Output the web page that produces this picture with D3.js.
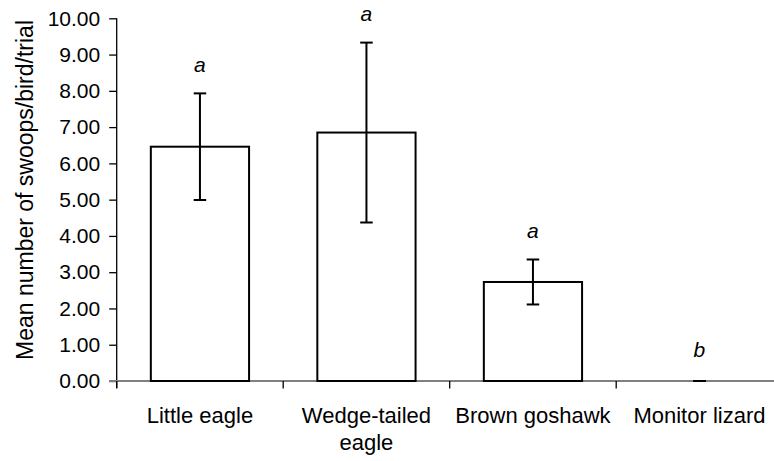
<!DOCTYPE html>
<html>
<head>
<meta charset="utf-8">
<script src="https://cdn.jsdelivr.net/npm/d3@7"></script>
<style>
  body { margin: 0; background: #fff; }
  text { font-family: "Liberation Sans", Arial, sans-serif; fill: #000; }
</style>
</head>
<body>
<div id="chart"></div>
<script>
// data
var categories = ["Little eagle", "Wedge-tailed eagle", "Brown goshawk", "Monitor lizard"];
var catLines = [["Little eagle"], ["Wedge-tailed", "eagle"], ["Brown goshawk"], ["Monitor lizard"]];
var means = [6.46, 6.85, 2.73, 0];
var errors = [1.47, 2.48, 0.62, 0];
var letters = ["a", "a", "a", "b"];
var yTicks = [0, 1, 2, 3, 4, 5, 6, 7, 8, 9, 10];

// initial setup
var svgWidth = 774;
var svgHeight = 461;

var svg = d3.select("#chart")
  .append("svg")
  .attr("width", svgWidth)
  .attr("height", svgHeight);

svg.append("rect")
  .attr("width", svgWidth)
  .attr("height", svgHeight)
  .attr("fill", "#fff");

// scales
var xBand = d3.scaleBand()
  .domain(categories)
  .range([116.7, 782.7])
  .padding(0);

var yLinearScale = d3.scaleLinear()
  .domain([0, 10])
  .range([381, 18.3]);

var barWidth = xBand.bandwidth() * 0.59;
var capWidth = 12.5;

// y axis
var leftAxis = d3.axisLeft(yLinearScale)
  .tickValues(yTicks)
  .tickFormat(d3.format(".2f"))
  .tickSize(7.5)
  .tickPadding(9);

var yAxisG = svg.append("g")
  .attr("transform", "translate(116.7, 0)")
  .call(leftAxis);

yAxisG.select(".domain")
  .attr("d", `M0,${yLinearScale(10)}V${yLinearScale(0) + 7}`)
  .attr("stroke", "#000")
  .attr("stroke-width", 1.3);

yAxisG.selectAll(".tick line")
  .attr("stroke", "#000")
  .attr("stroke-width", 1.3);

yAxisG.selectAll(".tick text")
  .attr("font-size", 21)
  .attr("font-family", "Liberation Sans, Arial, sans-serif");

// x axis line (grey)
svg.append("line")
  .attr("x1", 109)
  .attr("x2", svgWidth)
  .attr("y1", yLinearScale(0))
  .attr("y2", yLinearScale(0))
  .attr("stroke", "#808080")
  .attr("stroke-width", 2);

// x ticks at category boundaries
svg.selectAll(".xtick")
  .data(categories)
  .enter()
  .append("line")
  .attr("class", "xtick")
  .attr("x1", d => xBand(d))
  .attr("x2", d => xBand(d))
  .attr("y1", yLinearScale(0))
  .attr("y2", yLinearScale(0) + 7.5)
  .attr("stroke", "#000")
  .attr("stroke-width", 1.3);

// bars
svg.selectAll(".bar")
  .data(categories)
  .enter()
  .append("rect")
  .attr("class", "bar")
  .attr("x", d => xBand(d) + (xBand.bandwidth() - barWidth) / 2)
  .attr("y", (d, i) => yLinearScale(means[i]))
  .attr("width", barWidth)
  .attr("height", (d, i) => yLinearScale(0) - yLinearScale(means[i]))
  .attr("fill", "#fff")
  .attr("stroke", "#000")
  .attr("stroke-width", 2)
  .attr("display", (d, i) => means[i] > 0 ? null : "none");

// error bars
var errG = svg.selectAll(".err")
  .data(categories)
  .enter()
  .append("g")
  .attr("class", "err")
  .attr("transform", d => `translate(${xBand(d) + xBand.bandwidth() / 2}, 0)`);

errG.append("line")
  .attr("x1", 0)
  .attr("x2", 0)
  .attr("y1", (d, i) => yLinearScale(means[i] - errors[i]))
  .attr("y2", (d, i) => yLinearScale(means[i] + errors[i]))
  .attr("stroke", "#000")
  .attr("stroke-width", 2);

errG.append("line")
  .attr("x1", -capWidth / 2)
  .attr("x2", capWidth / 2)
  .attr("y1", (d, i) => yLinearScale(means[i] + errors[i]))
  .attr("y2", (d, i) => yLinearScale(means[i] + errors[i]))
  .attr("stroke", "#000")
  .attr("stroke-width", 2);

errG.append("line")
  .attr("x1", -capWidth / 2)
  .attr("x2", capWidth / 2)
  .attr("y1", (d, i) => yLinearScale(means[i] - errors[i]))
  .attr("y2", (d, i) => yLinearScale(means[i] - errors[i]))
  .attr("stroke", "#000")
  .attr("stroke-width", 2);

// significance letters
errG.append("text")
  .attr("x", 0)
  .attr("y", (d, i) => yLinearScale(means[i] + errors[i]) - (errors[i] > 0 ? 21.5 : 24))
  .attr("text-anchor", "middle")
  .attr("font-size", 21)
  .attr("font-style", "italic")
  .text((d, i) => letters[i]);

// category labels
var catText = svg.selectAll(".cat")
  .data(categories)
  .enter()
  .append("text")
  .attr("class", "cat")
  .attr("text-anchor", "middle")
  .attr("font-size", 22)
  .attr("y", 423);

catText.selectAll("tspan")
  .data((d, i) => catLines[i].map(t => ({ t: t, x: xBand(d) + xBand.bandwidth() / 2 })))
  .enter()
  .append("tspan")
  .attr("x", d => d.x)
  .attr("dy", (d, j) => j === 0 ? 0 : 27)
  .text(d => d.t);

// axis label
svg.append("text")
  .attr("transform", `translate(33, ${(13 + 367) / 2}) rotate(-90)`)
  .attr("text-anchor", "middle")
  .attr("font-size", 23)
  .text("Mean number of swoops/bird/trial");
</script>
</body>
</html>
